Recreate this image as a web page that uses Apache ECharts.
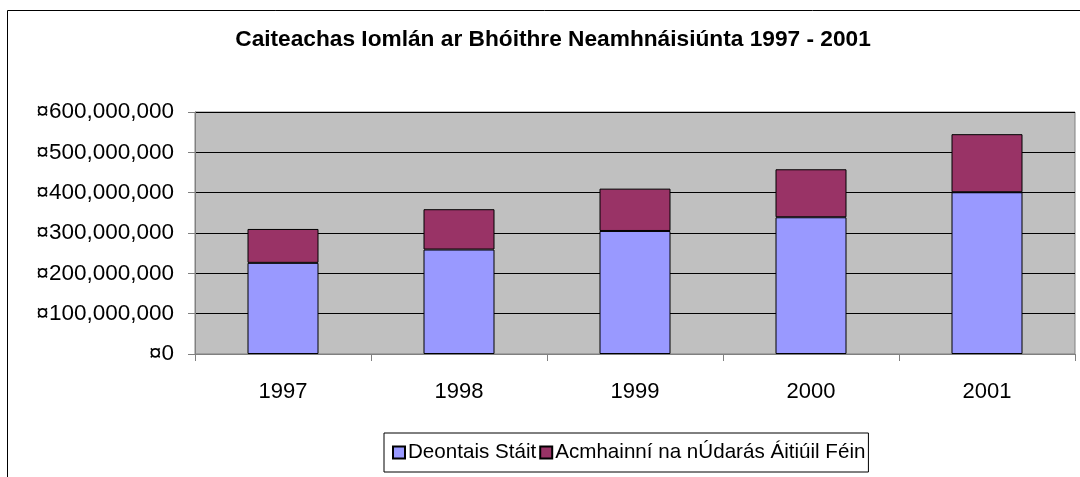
<!DOCTYPE html>
<html>
<head>
<meta charset="utf-8">
<script src="https://cdn.jsdelivr.net/npm/echarts@6/dist/echarts.min.js"></script>
<style>
  html, body { margin: 0; padding: 0; background: #fff; }
  #chart { width: 1080px; height: 477px; }
</style>
</head>
<body>
<div id="chart"></div>
<script>
// in euro (¤)
const years = ['1997', '1998', '1999', '2000', '2001']
const deontaisStait = [226000000, 259000000, 305000000, 339000000, 401000000]
const acmhainniUdaras = [84000000, 100000000, 105000000, 119000000, 144000000]
const seriesNames = ['Deontais Stáit', 'Acmhainní na nÚdarás Áitiúil Féin']

const font = 'Liberation Sans, Arial, sans-serif'
const chart = echarts.init(document.getElementById('chart'))

// y axis labels like ¤600,000,000
function money(v) {
  return '¤' + String(v).replace(/\B(?=(\d{3})+(?!\d))/g, ',')
}

chart.setOption({
  backgroundColor: '#ffffff',
  animation: false,
  title: {
    text: 'Caiteachas Iomlán ar Bhóithre Neamhnáisiúnta 1997 - 2001',
    left: 553,
    top: 28,
    textAlign: 'center',
    padding: 0,
    textStyle: {
      fontFamily: font,
      fontSize: 22.7,
      fontWeight: 'bold',
      color: '#000'
    }
  },
  // outer chart frame, runs off the right and bottom edges
  graphic: [{
    type: 'rect',
    shape: { x: 7.5, y: 10.5, width: 1200, height: 600 },
    style: { fill: 'none', stroke: '#000', lineWidth: 1 },
    silent: true
  }],
  legend: {
    left: 384,
    top: 433,
    orient: 'horizontal',
    itemWidth: 12,
    itemHeight: 12,
    itemGap: 3,
    icon: 'rect',
    padding: [9, 3, 9, 8],
    borderColor: '#000',
    borderWidth: 1,
    backgroundColor: '#fff',
    textStyle: {
      fontFamily: font,
      fontSize: 20.6,
      color: '#000',
      padding: [0, 0, 0, -2]
    },
    data: seriesNames
  },
  grid: {
    left: 195,
    right: 5,
    top: 112,
    bottom: 123,
    show: true,
    backgroundColor: '#c0c0c0',
    borderColor: '#808080',
    borderWidth: 1
  },
  xAxis: {
    type: 'category',
    data: years,
    axisLine: { lineStyle: { color: '#808080', width: 1 } },
    axisTick: { show: true, length: 7, inside: false, lineStyle: { color: '#808080' } },
    axisLabel: {
      fontFamily: font,
      fontSize: 22,
      color: '#000',
      margin: 27
    },
    splitLine: { show: false }
  },
  yAxis: {
    type: 'value',
    min: 0,
    max: 600000000,
    interval: 100000000,
    axisLine: { show: true, lineStyle: { color: '#808080', width: 1 } },
    axisTick: { show: true, length: 7, inside: false, lineStyle: { color: '#808080' } },
    axisLabel: {
      fontFamily: font,
      fontSize: 22.5,
      color: '#000',
      margin: 21,
      formatter: money
    },
    splitLine: { show: true, lineStyle: { color: '#000', width: 1 } }
  },
  series: [{
    name: seriesNames[0],
    type: 'bar',
    stack: 'total',
    barWidth: 71,
    itemStyle: { color: '#9999ff', borderColor: '#000', borderWidth: 1 },
    data: deontaisStait
  }, {
    name: seriesNames[1],
    type: 'bar',
    stack: 'total',
    barWidth: 71,
    itemStyle: { color: '#993366', borderColor: '#000', borderWidth: 1 },
    data: acmhainniUdaras
  }]
})
</script>
</body>
</html>
